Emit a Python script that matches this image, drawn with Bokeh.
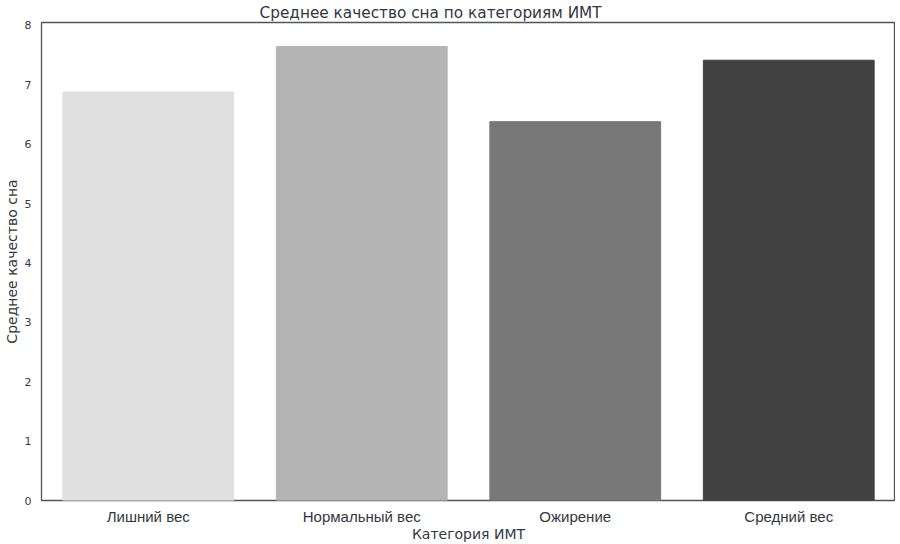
from bokeh.plotting import figure
from bokeh.models import ColumnDataSource, Range1d
from bokeh.embed import file_html
from bokeh.resources import INLINE

categories = ["Лишний вес", "Нормальный вес", "Ожирение", "Средний вес"]
mean_quality = [6.88, 7.645, 6.38, 7.415]
bar_colors = ["#e0e0e0", "#b4b4b4", "#787878", "#414141"]
y_ticks = [0, 1, 2, 3, 4, 5, 6, 7, 8]

src = ColumnDataSource(dict(cat=categories, val=mean_quality, color=bar_colors))

p = figure(x_range=categories, y_range=Range1d(0, 8.05), width=895, height=544,
           output_backend="svg", toolbar_location=None,
           title="Среднее качество сна по категориям ИМТ",
           min_border_left=32, min_border_right=0, min_border_top=0, min_border_bottom=0)

p.vbar(x="cat", top="val", width=0.8, source=src, fill_color="color", line_color="color")

p.title.align = "left"
p.title.offset = 218
p.title.text_font = "DejaVu Sans"
p.title.text_font_size = "15.3px"
p.title.text_font_style = "normal"
p.title.text_color = "#333740"
p.title.standoff = 2

p.xgrid.grid_line_color = None
p.ygrid.grid_line_color = None
p.outline_line_color = "#505458"
p.outline_line_width = 1.3
p.x_range.range_padding = 0

for ax in (p.xaxis[0], p.yaxis[0]):
    ax.axis_line_color = None
    ax.major_tick_line_color = None
    ax.minor_tick_line_color = None
    ax.major_tick_out = 0
    ax.major_tick_in = 0

p.yaxis.ticker = y_ticks
p.yaxis.major_label_text_font = "DejaVu Sans"
p.yaxis.major_label_text_font_size = "11px"
p.yaxis.major_label_text_color = "#3a3a3a"
p.yaxis.major_label_standoff = 10
p.yaxis.axis_label = "Среднее качество сна"
p.yaxis.axis_label_text_font = "DejaVu Sans"
p.yaxis.axis_label_text_font_size = "14px"
p.yaxis.axis_label_text_font_style = "normal"
p.yaxis.axis_label_text_color = "#333740"
p.yaxis.axis_label_standoff = 2

p.xaxis.major_label_text_font = "Liberation Sans"
p.xaxis.major_label_text_font_size = "15px"
p.xaxis.major_label_text_color = "#333740"
p.xaxis.major_label_standoff = 7
p.xaxis.axis_label = "Категория ИМТ"
p.xaxis.axis_label_text_font = "DejaVu Sans"
p.xaxis.axis_label_text_font_size = "14px"
p.xaxis.axis_label_text_font_style = "normal"
p.xaxis.axis_label_text_color = "#333740"
p.xaxis.axis_label_standoff = -2

open("out.html", "w").write(file_html(p, INLINE))
